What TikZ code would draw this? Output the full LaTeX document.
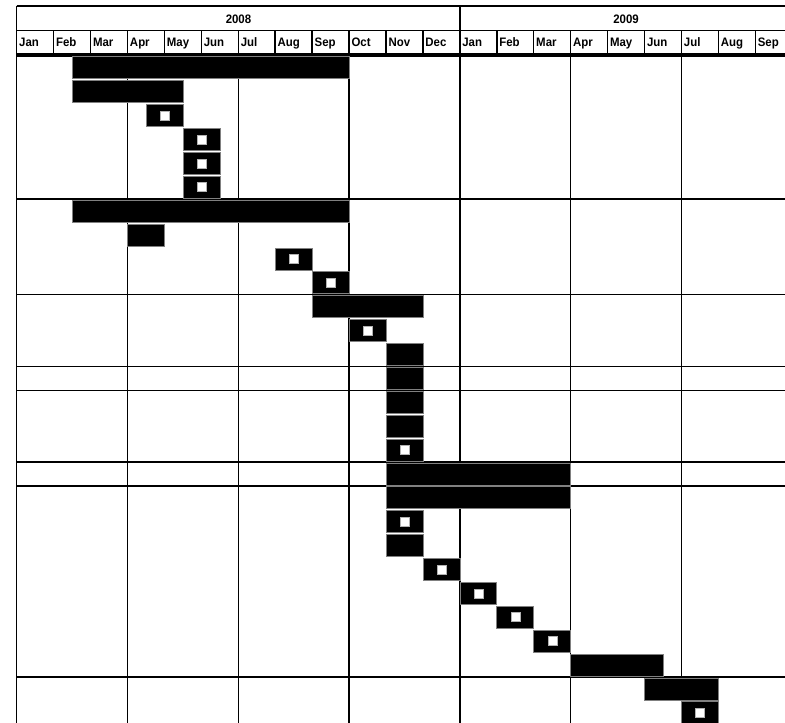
\documentclass[tikz,border=0pt]{standalone}
\usepackage{fontspec}
\setmainfont{Liberation Sans}
\newfontfamily\hdrfont[FakeStretch=0.93]{Liberation Sans}
\begin{document}
\begin{tikzpicture}[x=1pt,y=-1pt,
  gridline/.style={line width=1.45pt, black},
  headline/.style={line width=1.6pt, black},
  thickline/.style={line width=3.4pt, black},
  barbox/.style={fill=black, draw=gray, line width=0.6pt},
  msquare/.style={fill=white, draw=gray!60, line width=0.4pt},
  monthlbl/.style={font=\hdrfont\bfseries\fontsize{12.3}{13}\selectfont, anchor=base west, inner sep=0pt},
  yearlbl/.style={font=\hdrfont\bfseries\fontsize{12.3}{13}\selectfont, anchor=base, inner sep=0pt}]
\useasboundingbox (0,0) rectangle (785,723);
\clip (0,0) rectangle (785,723);
\fill[white] (0,0) rectangle (785,723);
% header lines
\draw[headline] (16.7,5.7) -- (800,5.7);
\draw[gridline] (16.7,30.5) -- (800,30.5);
\foreach \i in {1,...,11,13,14,...,20} {
  \draw[gridline] ({16.7+36.93*\i},30.5) -- ({16.7+36.93*\i},53.5);
}
\draw[gridline] (16.7,5.7) -- (16.7,723);
\draw[gridline] ({16.7+36.93*12},5.7) -- ({16.7+36.93*12},723);
% body vertical quarter lines
\foreach \i in {3,6,9,15,18} {
  \draw[gridline] ({16.7+36.93*\i},55) -- ({16.7+36.93*\i},723);
}
% group horizontal lines
\foreach \r in {7,11,14,15,18,19,27} {
  \draw[gridline] (16.7,{56.7+(\r-1)*23.89-0.9}) -- (800,{56.7+(\r-1)*23.89-0.9});
}
\draw[thickline] (16.7,55) -- (800,55);
% labels
\node[yearlbl] (y2008) at (238.5,23.3) {2008};
\node[yearlbl] (y2009) at (626,23.3) {2009};
\foreach \lbl [count=\i from 0] in {Jan,Feb,Mar,Apr,May,Jun,Jul,Aug,Sep,Oct,Nov,Dec,Jan,Feb,Mar,Apr,May,Jun,Jul,Aug,Sep} {
  \node[monthlbl] (m\i) at ({16.7+36.93*\i+2.3},46.7) {\lbl};
}
% task bars: row/start/end (month index)
\foreach \r/\s/\e in {1/1.5/9, 2/1.5/4.5, 7/1.5/9, 8/3/4, 11/8/11, 13/10/11, 14/10/11, 15/10/11, 16/10/11, 18/10/15, 19/10/15, 21/10/11, 26/15/17.5, 27/17/19} {
  \draw[barbox] ({16.7+36.93*\s},{56.7+(\r-1)*23.89}) rectangle ({16.7+36.93*\e},{56.7+(\r-1)*23.89+22});
}
% milestones: row/start
\foreach \r/\s in {3/3.5, 4/4.5, 5/4.5, 6/4.5, 9/7, 10/8, 12/9, 17/10, 20/10, 22/11, 23/12, 24/13, 25/14, 28/18} {
  \draw[barbox] ({16.7+36.93*\s},{56.7+(\r-1)*23.89}) rectangle ({16.7+36.93*(\s+1)},{56.7+(\r-1)*23.89+22});
  \draw[msquare] ({16.7+36.93*\s+18.5-4.5},{56.7+(\r-1)*23.89+11-4.5}) rectangle ++(9,9);
}
\end{tikzpicture}
\end{document}
